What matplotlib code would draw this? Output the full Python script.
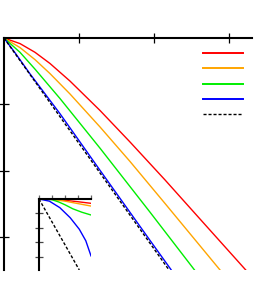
import matplotlib
matplotlib.use('Agg')
import matplotlib.pyplot as plt
from matplotlib.lines import Line2D

# main panel curves
redX = [0, 0.213, 0.413, 0.613, 0.88, 1.28, 1.68, 2.147, 2.613, 3.223]
redY = [0, -0.084, -0.215, -0.383, -0.648, -1.090, -1.564, -2.135, -2.722, -3.489]
orangeX = [0, 0.213, 0.413, 0.613, 0.88, 1.28, 1.68, 2.147, 2.88]
orangeY = [0, -0.144, -0.325, -0.535, -0.842, -1.338, -1.857, -2.489, -3.489]
greenX = [0, 0.213, 0.413, 0.747, 1.28, 1.947, 2.54]
greenY = [0, -0.215, -0.468, -0.911, -1.657, -2.620, -3.489]
blueX = [0, 0.147, 0.347, 0.747, 1.28, 1.947, 2.227]
blueY = [0, -0.222, -0.540, -1.140, -1.990, -3.045, -3.484]
dashX = [0, 2.2]
dashY = [0, -3.489]

# inset curves
inRedX = [0, 1, 2, 3, 4]
inRedY = [0, -0.02, -0.09, -0.19, -0.30]
inOrangeX = [0, 1, 2, 3, 4]
inOrangeY = [0, -0.03, -0.15, -0.32, -0.49]
inGreenX = [0, 1.0, 1.5, 2.0, 2.6, 3.3, 4.0]
inGreenY = [0, -0.05, -0.2, -0.4, -0.68, -0.92, -1.11]
inBlueX = [0, 0.8, 1.6, 2.4, 3.1, 3.6, 4.0]
inBlueY = [0, -0.15, -0.6, -1.3, -2.1, -2.9, -3.95]
inDashX = [0, 3.1]
inDashY = [0, -4.93]

colors = ['#ff0000', '#ffa500', '#00ee00', '#0000ff']
dash = (0, (2.2, 1.4))

fig = plt.figure(figsize=(2.6, 2.89), dpi=100)

# main axes
ax = fig.add_axes([4/260, 1 - 270/289, 248/260, 232/289])
ax.plot(redX, redY, color=colors[0], lw=1)
ax.plot(orangeX, orangeY, color=colors[1], lw=1)
ax.plot(greenX, greenY, color=colors[2], lw=1)
ax.plot(blueX, blueY, color=colors[3], lw=1)
ax.plot(dashX, dashY, color='black', lw=1, linestyle=dash)
ax.set_xlim(0, 3.307)
ax.set_ylim(-3.49, 0)
ax.spines['right'].set_visible(False)
ax.spines['bottom'].set_visible(False)
ax.spines['top'].set_linewidth(1.5)
ax.spines['left'].set_linewidth(1.5)
ax.xaxis.tick_top()
ax.set_xticks([1, 2, 3])
ax.set_yticks([-1, -2, -3])
ax.tick_params(direction='inout', length=6.5, width=0.9, labeltop=False, labelleft=False, labelbottom=False)

handles = [Line2D([], [], color=c, lw=1.4) for c in colors]
handles.append(Line2D([], [], color='black', lw=1, linestyle=dash))
ax.legend(handles, [' '] * 5, frameon=False, fontsize=8, handlelength=3.6,
          handletextpad=0, labelspacing=0.47, borderpad=0, borderaxespad=0,
          loc='upper left', bbox_to_anchor=(203/260, 1 - 49/289), bbox_transform=fig.transFigure)

# inset axes
ins = fig.add_axes([39/260, 1 - 270/289, 52/260, 71/289])
ins.plot(inRedX, inRedY, color=colors[0], lw=1)
ins.plot(inOrangeX, inOrangeY, color=colors[1], lw=1)
ins.plot(inGreenX, inGreenY, color=colors[2], lw=1)
ins.plot(inBlueX, inBlueY, color=colors[3], lw=1)
ins.plot(inDashX, inDashY, color='black', lw=1, linestyle=dash)
ins.set_xlim(0, 4)
ins.set_ylim(-4.93, 0)
ins.spines['right'].set_visible(False)
ins.spines['bottom'].set_visible(False)
ins.spines['top'].set_linewidth(1.5)
ins.spines['left'].set_linewidth(1.5)
ins.xaxis.tick_top()
ins.set_xticks([0, 1, 2, 3, 4])
ins.set_yticks([-1, -2, -3, -4])
ins.tick_params(axis='x', direction='out', length=3, width=0.9, color='#666666', labeltop=False, labelbottom=False)
ins.tick_params(axis='y', direction='inout', length=5.8, width=0.9, color='#444444', labelleft=False)

fig.savefig('out.png', dpi=100)
